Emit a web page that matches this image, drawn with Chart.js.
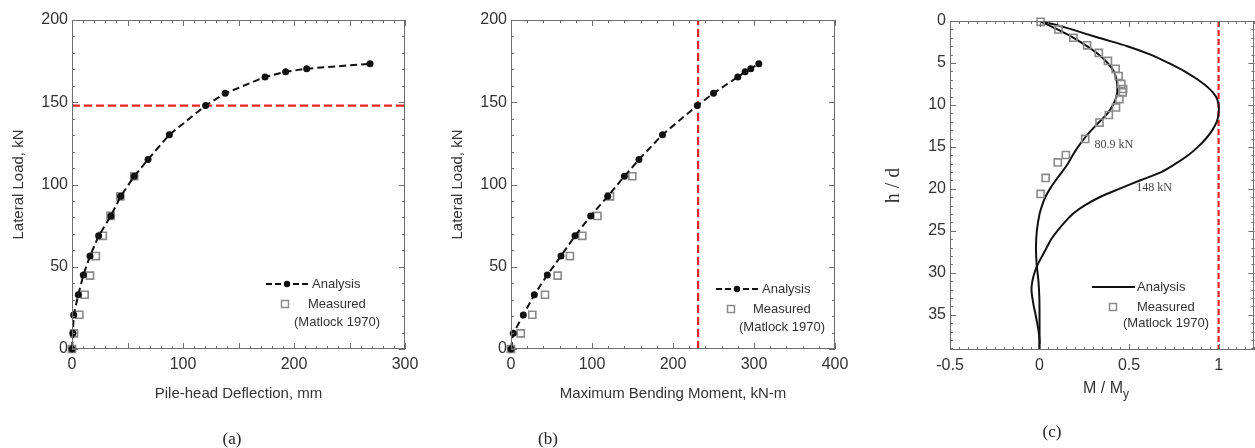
<!DOCTYPE html>
<html>
<head>
<meta charset="utf-8">
<script src="https://cdn.jsdelivr.net/npm/chart.js@4.4.1/dist/chart.umd.min.js"></script>
<style>
  body { margin: 0; background: #fff; }
  #wrap { position: relative; width: 1255px; height: 448px; overflow: hidden; }
  canvas { position: absolute; top: 0; }
  .tag { position: absolute; font-family: "Liberation Serif", serif; font-size: 17px; color: #222; transform: translate(-50%, -50%); }
  .xt { position: absolute; font-family: "Liberation Sans", Arial, sans-serif; font-size: 16px; color: #333; transform: translate(-50%, -50%); white-space: nowrap; }
  .xt sub { font-size: 12px; }
</style>
</head>
<body>
<div id="wrap">
  <canvas id="chartA" width="420" height="448" style="left:0px"></canvas>
  <canvas id="chartB" width="420" height="448" style="left:439px"></canvas>
  <canvas id="chartC" width="383" height="448" style="left:878px"></canvas>
  <div class="tag" style="left:232px; top:439px">(a)</div>
  <div class="tag" style="left:548px; top:439px">(b)</div>
  <div class="tag" style="left:1052px; top:432px">(c)</div>
  <div class="xt" style="left:1106px; top:390px">M / M<sub>y</sub></div>
</div>
<script>
// --- data ---
// load steps of the analysis (kN), shared by (a) and (b)
const loadAnalysis = [0, 9.5, 20.7, 33, 45, 56.5, 68.8, 80.9, 92.8, 105, 115.2, 130.3, 148, 155.4, 165.4, 168.5, 170.4, 173.4];
const deflAnalysis = [0, 0.8, 1.5, 5.7, 10.2, 16.2, 24, 35, 43.8, 56, 68.5, 87.7, 120.4, 138, 173.9, 192.5, 211.4, 268.5];
const momentAnalysis = [0, 2.8, 15.2, 28.8, 44.8, 61.7, 79, 98.4, 119.4, 140, 158, 187, 230, 250, 280, 289, 296, 306];

// Matlock (1970) measurements
const loadMeasured = [0, 9.5, 20.8, 33, 44.6, 56.5, 68.8, 80.9, 92.8, 105];
const deflMeasured = [0, 1.8, 6.6, 11.4, 16.2, 21.5, 27.8, 34.8, 43.5, 56];
const momentMeasured = [0, 12, 26.3, 42, 57.6, 72.8, 88, 106.6, 122.2, 149.8];

const yieldLoad = 148;     // kN, red line in (a)
const yieldMoment = 231;   // kN-m, red line in (b)
const yieldRatio = 1;      // M/My, red line in (c)

// (c) moment profiles, depth h/d vs M/My
const depth81 = [0, 1, 2, 3, 4, 5, 6, 7, 8, 9, 10, 11, 12, 13, 14, 15, 16, 17, 18, 19, 20, 21, 22, 23, 25, 27, 29, 31, 33, 35, 37, 39.2];
const ratio81 = [0, 0.1, 0.19, 0.265, 0.33, 0.38, 0.415, 0.43, 0.435, 0.43, 0.41, 0.38, 0.335, 0.29, 0.25, 0.215, 0.185, 0.158, 0.125, 0.09, 0.058, 0.032, 0.014, 0, -0.015, -0.02, -0.016, -0.006, -0.001, 0, 0, 0];
const depth148 = [0, 0.5, 1, 2, 3, 4, 5, 6, 7, 8, 9, 10, 11, 12, 13, 14, 15, 16, 17, 18, 19, 20, 21, 22, 23, 24, 25, 26, 27, 28, 29, 30, 31, 32, 33, 34, 35, 36, 37, 38, 39.2];
const ratio148 = [0, 0.1, 0.18, 0.33, 0.49, 0.62, 0.72, 0.81, 0.885, 0.945, 0.985, 1.0, 1.0, 0.99, 0.965, 0.93, 0.885, 0.83, 0.76, 0.68, 0.56, 0.445, 0.335, 0.25, 0.185, 0.14, 0.1, 0.065, 0.04, 0.015, -0.01, -0.028, -0.04, -0.045, -0.04, -0.032, -0.022, -0.013, -0.005, 0, 0];
const depthMeasured = [0.1, 1.0, 2.0, 2.9, 3.8, 4.76, 5.7, 6.55, 7.5, 8.1, 8.5, 9.3, 10.3, 11.2, 12.1, 14.05, 15.97, 16.85, 18.7, 20.6];
const ratioMeasured = [0.006, 0.106, 0.189, 0.266, 0.331, 0.382, 0.425, 0.442, 0.457, 0.467, 0.464, 0.446, 0.427, 0.387, 0.335, 0.255, 0.147, 0.102, 0.034, 0.006];
const curveLabels = [
    { text: '80.9 kN', x: 0.415, y: 14.8 },
    { text: '148 kN', x: 0.64, y: 19.9 }
];

const pts = (xs, ys) => xs.map((x, i) => ({ x: x, y: ys[i] }));

const SANS = '"Liberation Sans", Arial, sans-serif';
const RED = '#e3242b';
const GREY = '#8a8a8a';

// --- box frame with inward major/minor ticks (Mathematica look) ---
const frameTicks = {
    id: 'frameTicks',
    afterDatasetsDraw(chart, args, opts) {
        const { ctx, chartArea: a, scales } = chart;
        ctx.save();
        ctx.strokeStyle = '#6e6e6e';
        ctx.lineWidth = 1;
        const line = (x1, y1, x2, y2) => {
            ctx.beginPath(); ctx.moveTo(x1, y1); ctx.lineTo(x2, y2); ctx.stroke();
        };
        const run = (scale, step, major, horizontal) => {
            const n = Math.round((scale.max - scale.min) / step);
            for (let i = 0; i <= n; i++) {
                const v = scale.min + i * step;
                const isMajor = Math.abs(v / major - Math.round(v / major)) < 1e-6;
                const len = isMajor ? 6 : 3;
                const p = Math.round(scale.getPixelForValue(v)) + 0.5;
                if (horizontal) {
                    line(p, a.bottom, p, a.bottom - len);
                    line(p, a.top, p, a.top + len);
                } else {
                    line(a.left, p, a.left + len, p);
                    line(a.right, p, a.right - len, p);
                }
            }
        };
        run(scales.x, opts.xStep, opts.xMajor, true);
        run(scales.y, opts.yStep, opts.yMajor, false);
        ctx.strokeRect(Math.round(a.left) + 0.5, Math.round(a.top) + 0.5,
            Math.round(a.width) - 1, Math.round(a.height) - 1);
        ctx.restore();
    }
};

// --- little legend drawn inside the plot box ---
const boxLegend = {
    id: 'boxLegend',
    afterDraw(chart, args, o) {
        const { ctx } = chart;
        ctx.save();
        ctx.font = '13px ' + SANS;
        ctx.fillStyle = '#333';
        ctx.textBaseline = 'middle';
        // analysis sample
        ctx.strokeStyle = '#111';
        ctx.lineWidth = 2;
        ctx.setLineDash(o.dashed ? [6, 3] : []);
        ctx.beginPath(); ctx.moveTo(o.line[0], o.lineY); ctx.lineTo(o.line[1], o.lineY); ctx.stroke();
        ctx.setLineDash([]);
        if (o.dot) {
            ctx.fillStyle = '#111';
            ctx.beginPath(); ctx.arc((o.line[0] + o.line[1]) / 2, o.lineY, 3.2, 0, Math.PI * 2); ctx.fill();
            ctx.fillStyle = '#333';
        }
        ctx.fillText('Analysis', o.textX, o.lineY);
        // measured sample
        ctx.strokeStyle = GREY;
        ctx.lineWidth = 1.5;
        ctx.strokeRect(o.sqX - 3.5, o.sqY - 3.5, 7, 7);
        ctx.fillText('Measured', o.textX2, o.sqY);
        ctx.fillText('(Matlock 1970)', o.noteX, o.noteY);
        ctx.restore();
    }
};

// --- curve annotations in (c) ---
const curveText = {
    id: 'curveText',
    afterDatasetsDraw(chart) {
        if (chart.canvas.id !== 'chartC') return;
        const { ctx, scales } = chart;
        ctx.save();
        ctx.font = '12px "Liberation Serif", serif';
        ctx.fillStyle = '#444';
        ctx.textAlign = 'center';
        ctx.textBaseline = 'middle';
        curveLabels.forEach(l => {
            ctx.fillText(l.text, scales.x.getPixelForValue(l.x), scales.y.getPixelForValue(l.y));
        });
        ctx.restore();
    }
};

const fmt = (v) => String(+Number(v).toFixed(2));

function axisX(min, max, step, title, reverse) {
    return {
        type: 'linear', min: min, max: max, reverse: !!reverse,
        grid: { display: false, drawTicks: false },
        border: { display: false },
        ticks: { stepSize: step, padding: 6, color: '#333', font: { family: SANS, size: 16 }, maxRotation: 0, autoSkip: false, includeBounds: false, callback: fmt },
        title: { display: !!title, text: title, color: '#333', font: { family: SANS, size: 15 }, padding: { top: 0, bottom: 4 } },
        afterFit: (s) => { s.height = 58; s.paddingLeft = 0; s.paddingRight = 0; }
    };
}

function axisY(min, max, step, title, titleFont, reverse) {
    return {
        type: 'linear', min: min, max: max, reverse: !!reverse,
        grid: { display: false, drawTicks: false },
        border: { display: false },
        ticks: { stepSize: step, padding: 4, color: '#333', font: { family: SANS, size: 16 }, includeBounds: false, callback: fmt },
        title: { display: true, text: title, color: '#333', font: titleFont, padding: { top: titleFont.pad, bottom: 0 } },
        afterFit: (s) => { s.width = 72; s.paddingTop = 0; s.paddingBottom = 0; }
    };
}

function baseOptions(pad, scales, ticks, legend) {
    return {
        responsive: false,
        animation: false,
        devicePixelRatio: 1,
        layout: { padding: pad },
        scales: scales,
        plugins: {
            legend: { display: false },
            tooltip: { enabled: false },
            frameTicks: ticks,
            boxLegend: legend
        }
    };
}

const analysisStyle = {
    showLine: true, borderColor: '#111', backgroundColor: '#111', borderWidth: 2,
    borderDash: [7, 4], pointRadius: 3.5, pointBorderWidth: 0, pointBackgroundColor: '#111', clip: 8
};
const measuredStyle = {
    showLine: false, pointStyle: 'rect', pointRadius: 5, pointBorderWidth: 1.6,
    pointBorderColor: GREY, pointBackgroundColor: 'rgba(255,255,255,0)', clip: 8
};

Chart.register(frameTicks, boxLegend, curveText);

// (a) load vs pile-head deflection
new Chart(document.getElementById('chartA'), {
    type: 'scatter',
    data: {
        datasets: [
            Object.assign({ data: pts(deflAnalysis, loadAnalysis) }, analysisStyle),
            Object.assign({ data: pts(deflMeasured, loadMeasured) }, measuredStyle),
            { data: pts([0, 300], [yieldLoad, yieldLoad]), showLine: true, borderColor: RED, borderWidth: 2.2, borderDash: [8, 4], pointRadius: 0 }
        ]
    },
    options: baseOptions({ left: 0, top: 20, right: 15, bottom: 41 },
        { x: axisX(0, 300, 100, 'Pile-head Deflection, mm'),
          y: axisY(0, 200, 50, 'Lateral Load, kN', { family: SANS, size: 15, pad: 10 }) },
        { xStep: 10, xMajor: 50, yStep: 10, yMajor: 50 },
        { dashed: true, dot: true, line: [266, 308], lineY: 284, textX: 312, sqX: 285, sqY: 304, textX2: 308, noteX: 294, noteY: 322 })
});

// (b) load vs maximum bending moment
new Chart(document.getElementById('chartB'), {
    type: 'scatter',
    data: {
        datasets: [
            Object.assign({ data: pts(momentAnalysis, loadAnalysis) }, analysisStyle),
            Object.assign({ data: pts(momentMeasured, loadMeasured) }, measuredStyle),
            { data: pts([yieldMoment, yieldMoment], [0, 200]), showLine: true, borderColor: RED, borderWidth: 2.2, borderDash: [8, 4], pointRadius: 0 }
        ]
    },
    options: baseOptions({ left: 0, top: 20, right: 24, bottom: 41 },
        { x: axisX(0, 400, 100, 'Maximum Bending Moment, kN-m'),
          y: axisY(0, 200, 50, 'Lateral Load, kN', { family: SANS, size: 15, pad: 10 }) },
        { xStep: 20, xMajor: 100, yStep: 10, yMajor: 50 },
        { dashed: true, dot: true, line: [277, 319], lineY: 289, textX: 323, sqX: 292, sqY: 309, textX2: 314, noteX: 300, noteY: 327 })
});

// (c) bending moment profiles with depth
new Chart(document.getElementById('chartC'), {
    type: 'scatter',
    data: {
        datasets: [
            Object.assign({ data: pts(ratioMeasured, depthMeasured) }, measuredStyle),
            { data: pts(ratio81, depth81), showLine: true, borderColor: '#111', borderWidth: 2, pointRadius: 0, tension: 0.3 },
            { data: pts(ratio148, depth148), showLine: true, borderColor: '#111', borderWidth: 2, pointRadius: 0, tension: 0.3 },
            { data: pts([yieldRatio, yieldRatio], [0, 39.2]), showLine: true, borderColor: RED, borderWidth: 2.2, borderDash: [6, 3], pointRadius: 0 }
        ]
    },
    options: baseOptions({ left: 0, top: 21, right: 2, bottom: 40 },
        { x: axisX(-0.5, 1.2, 0.5, ''),
          y: axisY(0, 39.2, 5, 'h / d', { family: '"Liberation Serif", serif', size: 20, pad: 4 }, true) },
        { xStep: 0.05, xMajor: 0.5, yStep: 1, yMajor: 5 },
        { dashed: false, dot: false, line: [214, 257], lineY: 287, textX: 259, sqX: 235, sqY: 307, textX2: 259, noteX: 245, noteY: 323 })
});
</script>
</body>
</html>
